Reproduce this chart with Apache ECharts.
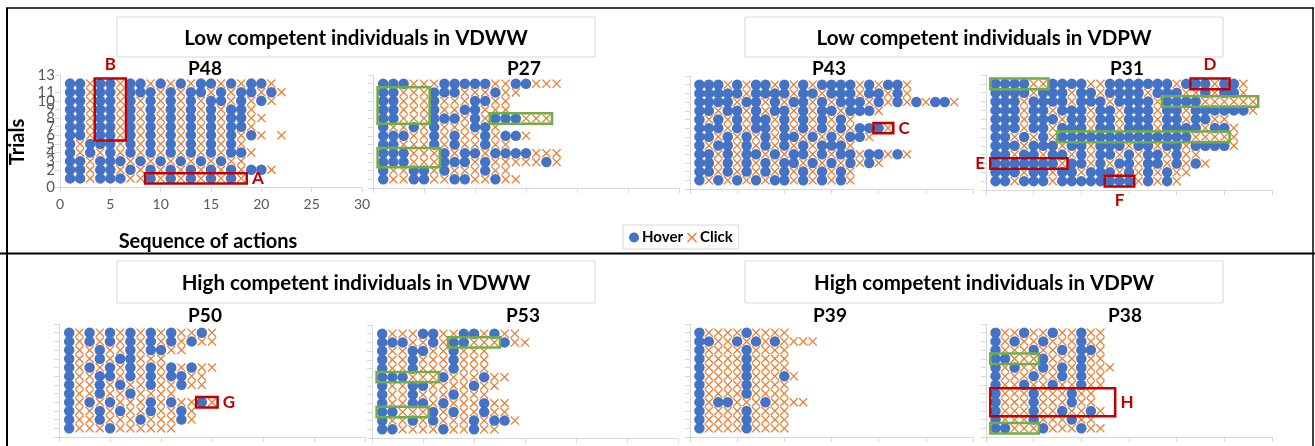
<!DOCTYPE html>
<html><head><meta charset="utf-8">
<script src="https://cdn.jsdelivr.net/npm/echarts@6/dist/echarts.min.js"></script>
<style>html,body{margin:0;padding:0;background:#fff}#c{width:1315px;height:446px}</style>
</head><body><div id="c"></div>
<script>
// ---- DATA (rows listed from trial 12 at top down to trial 1; o = Hover, x = Click, . = none)
const trialTicks = [0,1,2,3,4,5,6,7,8,9,10,11,12,13];
const actionTicks = [0,5,10,15,20,25,30];
const groupTitles = ["Low competent individuals in VDWW","Low competent individuals in VDPW","High competent individuals in VDWW","High competent individuals in VDPW"];
const panelNames = ["P48","P27","P43","P31","P50","P53","P39","P38"];

const p48Rows = [
 "ooxooxooxoxoxooxoxoox",
 "ooxooxoooxoxooxoxooxox",
 "ooxooxoxoxoxoxooxoxox",
 "ooxooxoxoxoxoxoxoox",
 "ooxooxoxoxoxoxoxooxx",
 "ooxooxoxoxoxoxoxoox",
 "ooxooxoxoxoxoxoxoxox.x",
 "oxoooxoxoxoxoxoxox",
 "oxoxoxoxoxoxoxoxoox",
 "ooxoooxoxoxoxoxoxx",
 "ooxooxoxoxoxoxoxoxoox",
 "ooxoooxxoxoxoxoxox"
];
const p27Rows = [
 "oooxxxoooooxxooxxx",
 "ooxxxoooxxxoxx",
 "ooxxxoxxxooxx",
 "ooxxxoxxooxxx",
 "ooxxxoooxoxoooxxx",
 "oxxoxoxxxoox",
 "oooxxoxoxxoxoox",
 "ooxxxoxoxxoxx",
 "oooxxxoxooxooooxxx",
 "oooxxxoooxoxxxxxox",
 "oxxooxoxxxoxx",
 "oxxooxxooxxoxx"
];
const p43Rows = [
 "oooxoxooxoxoxooooxoxoox",
 "oooooxooooxooxoooxooxox",
 "ooooxooxoxooxoxoooxoxoxoxoox",
 "ooxooxoxooxoxooxooox",
 "oxoxoxooxoxoxoxox",
 "oooxoxooxoxoxoxoxooox",
 "ooxoxoxoxooxoxoxoox",
 "oxooxoxoxoxoxooox",
 "ooxoxooxoxooxoxooxooxox",
 "ooxoxoxoxooxoxoxoxox",
 "ooxoxoxoxoxoxoxox",
 "oxoxoxoxooxoxoxox"
];
const p31Rows = [
 "ooooxxooooxxoooooooxoooxoox",
 "ooooxoooxooxooooxoooxxoxoox",
 "oooxooooxoooxooooxooooxxxxxx",
 "oooxooxoooxooxoooxooxoooooox",
 "oooxoooxooxooxoooxooxooxx",
 "oooxooxoooxooxoooxooooxoox",
 "ooxoxoxooooooooooooooxxxxx",
 "oooxoooxooxoooxooxooxoooox",
 "ooxooxooxoxooxoxooxoxx",
 "oooooooxooxoxooxooxoxox",
 "oooxooxooxoooxoxoxoxx",
 "ooxoooxooooooooxoxox"
];
const p50Rows = [
 "oxoxoxoxoxoxxox",
 "oxoxoxoxoxoxoxx",
 "oxxoxxoxooxx",
 "oxxoxooxxx",
 "oxoxoxoxoxoxoxx",
 "oxxooxoxoxooxx",
 "oxxoxoxxoxxoxx",
 "oxxoxxoxxxx",
 "oxoxoxxxoxoxxox",
 "oxxoxoxxoxxox",
 "oxxoxxxoxxxox",
 "oxxxoxxxxxx"
];
const p53Rows = [
 "oxxxooxxooxoxx",
 "oooxxoxooxxxoxx",
 "oxxooxxoxxx",
 "oxxoxxxoxxx",
 "oxxoxxxoxxx",
 "oooxxxoxxxoxx",
 "oxxooxxxxoxx",
 "oxxoxxxoxxx",
 "oxxooxoxxxoxx",
 "ooxxxoxoxxoxx",
 "oxxoxoxxxoxoox",
 "ooxxxxoxxoxx"
];
const p39Rows = [
 "oxxxxoxxxx",
 "ooxxoxoxoxxxx",
 "oxxxxoxxxx",
 "oxxxxoxxxx",
 "oxxxxoxxxx",
 "oxxxxoxxxox",
 "oxxxxoxxxx",
 "oxxxxoxxxx",
 "oxooxxxoxxxx",
 "oxxxxoxxxx",
 "oxxxxoxxxx",
 "oxxxxoxxxx"
];
const p38Rows = [
 "oxxoxxoxxoxx",
 "oxoxxoxxxoxx",
 "oxxxoxxoxoox",
 "ooxxxoxxxoxx",
 "oxoxxoxoxoxxx",
 "oxxxoxxoxoxx",
 "oxxoxxoxxoxx",
 "oxxxoxxxoxx",
 "oxxxoxxxoxx",
 "oxxxoxxoxxox",
 "oxxxoxxxoxx",
 "ooxxxoxxxoxx"
];
const panelRows = [p48Rows,p27Rows,p43Rows,p31Rows,p50Rows,p53Rows,p39Rows,p38Rows];

// highlighted runs: panel index, first/last action, first/last trial, colour kind, letter
const highlights = [
 [0, 9,18, 1,1, "red","A","right"],
 [0, 4,6, 6,12, "red","B","top"],
 [1, 1,5, 8,11, "green","",""],
 [1, 12,17, 8,8, "green","",""],
 [1, 1,6, 3,4, "green","",""],
 [2, 20,21, 7,7, "red","C","right"],
 [3, 1,6, 12,12, "green","",""],
 [3, 19,28, 10,10, "green","",""],
 [3, 8,25, 6,6, "green","",""],
 [3, 22,25, 12,12, "red","D","top"],
 [3, 1,8, 3,3, "red","E","left"],
 [3, 13,15, 1,1, "red","F","bottom"],
 [4, 14,15, 4,4, "red","G","right"],
 [5, 8,12, 11,11, "green","",""],
 [5, 1,6, 7,7, "green","",""],
 [5, 1,5, 3,3, "green","",""],
 [7, 1,5, 9,9, "green","",""],
 [7, 1,5, 1,1, "green","",""],
 [7, 1,13, 3,5, "red","H","right"]
];

// ---- LAYOUT
const BLUE="#4472C4", ORANGE="#ED7D31", RED="#C00000", GREEN="#70AD47", AX="#D9D9D9";
const FONT="Lato";
const grids = [
 {left:60, top:75, width:302, height:112},
 {left:373, top:75, width:306, height:113},
 {left:690, top:76, width:283, height:113},
 {left:986, top:75, width:286, height:115},
 {left:59, top:324, width:306, height:113},
 {left:372, top:325, width:306, height:113},
 {left:690, top:324, width:283, height:113},
 {left:986, top:324, width:286, height:113}
];
const titlePos = [[205,69],[524,69],[829,69],[1127,69],[205,316],[523,316],[830,316],[1125,316]];
const XPATH = 'path://M0,1L1,0L5,4L9,0L10,1L6,5L10,9L9,10L5,6L1,10L0,9L4,5Z';

const xAxes=[], yAxes=[], series=[];
panelRows.forEach((rows,i)=>{
  const show = i===0;
  xAxes.push({gridIndex:i,type:'value',min:actionTicks[0],max:actionTicks[actionTicks.length-1],interval:5,
    axisLine:{show:true,lineStyle:{color:AX,width:1}},axisTick:{show:true,length:5,lineStyle:{color:AX}},
    axisLabel:{show:show,color:'#595959',fontSize:14,fontFamily:FONT,margin:10,showMinLabel:true,showMaxLabel:true},splitLine:{show:false}});
  yAxes.push({gridIndex:i,type:'value',min:trialTicks[0],max:trialTicks[trialTicks.length-1],interval:1,
    axisLine:{show:true,lineStyle:{color:AX,width:1}},axisTick:{show:true,length:5,lineStyle:{color:AX}},
    axisLabel:{show:show,color:'#595959',fontSize:15,lineHeight:7,fontFamily:FONT,margin:5,hideOverlap:false,showMinLabel:true,showMaxLabel:true},splitLine:{show:false}});
  const hov=[], clk=[];
  rows.forEach((s,r)=>{
    const trial = rows.length - r;
    for(let c=0;c<s.length;c++){
      if(s[c]==='o') hov.push([c+1,trial]);
      else if(s[c]==='x') clk.push([c+1,trial]);
    }
  });
  series.push({name:'Hover',type:'scatter',xAxisIndex:i,yAxisIndex:i,data:hov,symbol:'circle',symbolSize:10.5,
    itemStyle:{color:BLUE,opacity:1},silent:true,z:2});
  series.push({name:'Click',type:'scatter',xAxisIndex:i,yAxisIndex:i,data:clk,symbol:XPATH,symbolSize:9,
    itemStyle:{color:ORANGE,opacity:1},silent:true,z:3});
  const areas = highlights.filter(h=>h[0]===i).map(h=>{
    const col = h[5]==='red'?RED:GREEN;
    return [{xAxis:h[1]-0.55,yAxis:h[3]-0.6,
      itemStyle:{color:'rgba(0,0,0,0)',borderColor:col,borderWidth:2.5},
      label:{show:!!h[6],formatter:h[6],position:h[7]||'right',color:RED,fontWeight:'bold',fontSize:17,fontFamily:FONT,distance:4}},
      {xAxis:h[2]+0.55,yAxis:h[4]+0.6}];
  });
  if(areas.length){
    series.push({type:'scatter',xAxisIndex:i,yAxisIndex:i,data:[],z:10,silent:true,
      markArea:{silent:true,z:10,data:areas}});
  }
});

const graphic = [];
graphic.push({type:'line',shape:{x1:7,y1:8,x2:7,y2:446},style:{stroke:'#000',lineWidth:2},z:0});
graphic.push({type:'line',shape:{x1:6,y1:8,x2:1314,y2:8},style:{stroke:'#000',lineWidth:1.5},z:0});
graphic.push({type:'line',shape:{x1:1313,y1:8,x2:1313,y2:446},style:{stroke:'#000',lineWidth:1.5},z:0});
graphic.push({type:'line',shape:{x1:0,y1:253.5,x2:1315,y2:253.5},style:{stroke:'#000',lineWidth:2},z:0});
const boxes=[[117,17,478,40],[745,17,478,40],[117,261,478,42],[745,261,478,42]];
boxes.forEach((b,k)=>{
  graphic.push({type:'rect',shape:{x:b[0],y:b[1],width:b[2],height:b[3]},style:{fill:'#fff',stroke:AX,lineWidth:1},z:1});
  graphic.push({type:'text',x:b[0]+b[2]/2,y:b[1]+b[3]/2+1,style:{text:groupTitles[k],fill:'#000',font:'bold 20.5px '+FONT,textAlign:'center',textVerticalAlign:'middle'},z:2});
});
panelNames.forEach((n,i)=>{
  graphic.push({type:'text',x:titlePos[i][0],y:titlePos[i][1],style:{text:n,fill:'#000',font:'bold 19px '+FONT,textAlign:'center',textVerticalAlign:'middle'},z:2});
});
graphic.push({type:'text',x:18,y:142,rotation:Math.PI/2,style:{text:'Trials',fill:'#000',font:'bold 20px '+FONT,textAlign:'center',textVerticalAlign:'middle'},z:2});
graphic.push({type:'text',x:208,y:242,style:{text:'Sequence of actions',fill:'#000',font:'bold 20px '+FONT,textAlign:'center',textVerticalAlign:'middle'},z:2});

const chart = echarts.init(document.getElementById('c'),null,{renderer:'canvas'});
chart.setOption({
  animation:false,
  backgroundColor:'#fff',
  grid:grids,
  xAxis:xAxes,
  yAxis:yAxes,
  series:series,
  graphic:graphic,
  legend:{data:['Hover','Click'],left:623,top:225,orient:'horizontal',itemWidth:10,itemHeight:10,itemGap:4,
    padding:[5,6,4,6],borderColor:AX,borderWidth:1,backgroundColor:'#fff',
    textStyle:{fontFamily:FONT,fontWeight:'bold',fontSize:15,color:'#000',padding:[0,0,0,-2]}}
});
</script></body></html>
